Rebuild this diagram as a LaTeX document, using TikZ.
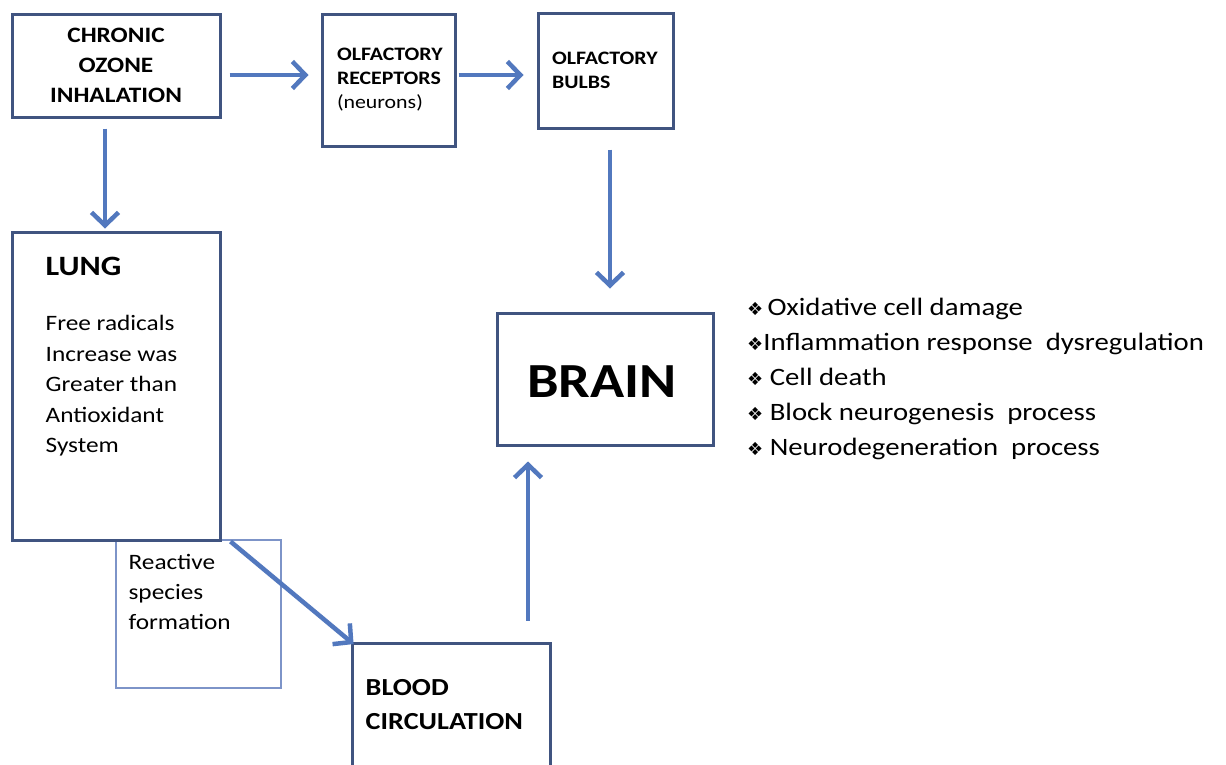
\documentclass[tikz,border=0pt]{standalone}
\usepackage{fontspec}
\setmainfont{Carlito}[FakeStretch=1.15]
\newfontfamily\symfont{DejaVu Sans}
\usetikzlibrary{arrows.meta,positioning}
\definecolor{boxblue}{RGB}{64,84,128}
\definecolor{arrowblue}{RGB}{82,120,190}
\definecolor{thinblue}{RGB}{125,148,200}
\newcommand{\bul}{{\symfont\fontsize{18}{18}\selectfont ❖}}

\begin{document}
\begin{tikzpicture}[x=1pt, y=-1pt,
    box/.style={draw=boxblue, line width=3pt, fill=white, inner sep=0pt},
    thinbox/.style={draw=thinblue, line width=1.2pt, inner sep=0pt},
    flow/.style={draw=arrowblue, line width=4.5pt, -{Straight Barb[length=13pt,width=27pt]}},
    txt/.style={inner sep=0pt, align=left}]
  \path[use as bounding box, clip] (0,0) rectangle (1226,764);
  \fill[white] (0,0) rectangle (1226,764);

  % top row
  \node[box, minimum width=208pt, minimum height=103pt, align=center,
        font=\fontsize{22}{30}\selectfont\bfseries] (ozone) at (116,65.5)
        {CHRONIC\\OZONE\\INHALATION};
  \node[box, minimum height=132pt, text width=103pt, inner xsep=15pt, align=left,
        font=\fontsize{19}{24}\selectfont] (receptors) at (388.5,80)
        {\textbf{OLFACTORY}\\\textbf{RECEPTORS}\\(neurons)};
  \node[box, minimum height=115pt, text width=107pt, inner xsep=14pt, align=left,
        font=\fontsize{19}{24}\selectfont\bfseries] (bulbs) at (605.5,70.5)
        {OLFACTORY\\BULBS};

  % lung column
  \node[thinbox, minimum width=165pt, minimum height=148pt] (reactive) at (198.5,614) {};
  \node[txt, font=\fontsize{22}{30}\selectfont, below right=15pt and 13pt of reactive.north west]
        (reactivetext) {Reactive\\species\\formation};
  \node[box, minimum width=208pt, minimum height=308pt] (lung) at (116,386) {};
  \node[txt, font=\fontsize{28}{28}\selectfont\bfseries, below right=26pt and 35pt of lung.north west]
        (lunghead) {LUNG};
  \node[txt, font=\fontsize{22}{30.5}\selectfont, below right=40pt and 0pt of lunghead.south west]
        (lungbody) {Free radicals\\Increase was\\Greater than\\Antioxidant\\System};

  % blood and brain
  \node[box, minimum width=198pt, minimum height=160pt] (blood) at (451,723) {};
  \node[txt, font=\fontsize{24.5}{34}\selectfont\bfseries, below right=38pt and 15pt of blood.north west]
        (bloodtext) {BLOOD\\CIRCULATION};
  \node[box, minimum width=216pt, minimum height=132pt, text height=37.5pt, text depth=0pt,
        font=\fontsize{49}{49}\selectfont\bfseries] (brain) at (605,379) {BRAIN\kern6pt};
  \node[txt, anchor=north west, font=\fontsize{25}{35}\selectfont] (effects) at (747,298)
        {\bul\,Oxidative cell damage\\
         \bul Inflammation response\ \ dysregulation\\
         \bul\ Cell death\\
         \bul\ Block neurogenesis\ \ process\\
         \bul\ Neurodegeneration\ \ process};

  % arrows
  \draw[flow, shorten <=8pt, shorten >=12pt] ([yshift=-9.5pt]ozone.east) -- ([yshift=-9.5pt]ozone.east -| receptors.west);
  \draw[flow, shorten <=2pt, shorten >=13pt] ([yshift=5pt]receptors.east) -- ([yshift=5pt]receptors.east -| bulbs.west);
  \draw[flow, shorten <=10pt, shorten >=2pt] ([xshift=-11pt]ozone.south) -- ([xshift=-11pt]ozone.south |- lung.north);
  \draw[flow, shorten <=20pt, shorten >=23pt] ([xshift=4.5pt]bulbs.south) -- ([xshift=4.5pt]bulbs.south |- brain.north);
  \draw[flow, shorten <=21pt, shorten >=15pt] ([xshift=77pt]blood.north) -- ([xshift=77pt]blood.north |- brain.south);
  \draw[flow, shorten >=-4pt] ([xshift=9pt]lung.south east) -- (blood.north west);
\end{tikzpicture}
\end{document}
